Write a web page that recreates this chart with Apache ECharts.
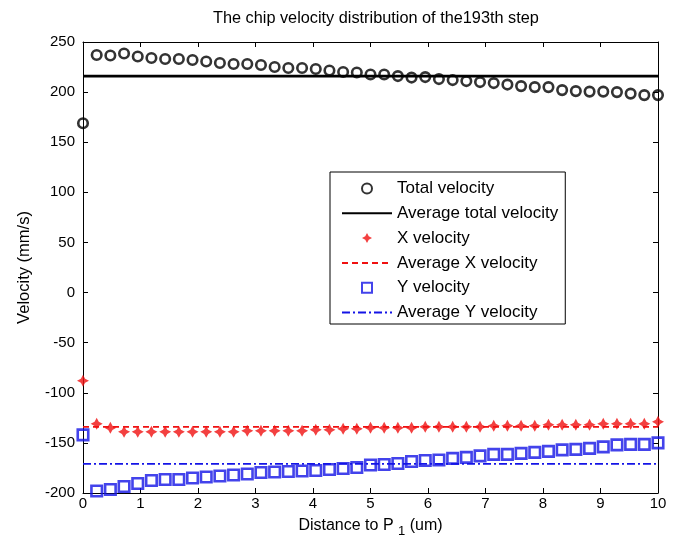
<!DOCTYPE html>
<html><head><meta charset="utf-8">
<script src="https://cdn.jsdelivr.net/npm/echarts@6/dist/echarts.min.js"></script>
<style>html,body{margin:0;padding:0;background:#fff}#c{width:675px;height:543px}</style>
</head><body><div id="c"></div><script>
const distance = [0, 0.238, 0.476, 0.714, 0.952, 1.190, 1.429, 1.667, 1.905, 2.143, 2.381, 2.619, 2.857, 3.095, 3.333, 3.571, 3.810, 4.048, 4.286, 4.524, 4.762, 5.000, 5.238, 5.476, 5.714, 5.952, 6.190, 6.429, 6.667, 6.905, 7.143, 7.381, 7.619, 7.857, 8.095, 8.333, 8.571, 8.810, 9.048, 9.286, 9.524, 9.762, 10];
const totalVelocity = [169, 237, 236.5, 238.5, 235.5, 234, 233, 233, 232, 230.5, 229, 228, 228, 227, 225, 224, 224, 223, 221.5, 220, 219.5, 217.5, 217.5, 216, 214.5, 215, 213, 212, 211, 210, 209, 207.5, 206, 205, 205, 202, 201, 200.5, 200.5, 200, 198.5, 197, 197];
const xVelocity = [-88, -131, -135, -139, -139, -139, -139, -139, -139, -139, -139, -139, -138, -138, -138, -138, -138, -137, -137, -136, -136, -135, -135, -135, -135, -134, -134, -134, -134, -134, -133, -133, -133, -133, -132, -132, -132, -132, -131, -131, -131, -131, -129];
const yVelocity = [-142, -198, -196.5, -193.5, -190.5, -187.5, -186.5, -186.5, -185, -184, -183, -182, -181, -179.5, -179, -178.5, -178, -177.5, -176.5, -175.5, -174.5, -172, -171.5, -170.5, -168.5, -167.5, -167, -165.5, -164.5, -163, -161.5, -161.5, -160.5, -159.5, -158.5, -157, -156.5, -155.5, -154, -152, -151.5, -151.5, -150];
const avgTotal = 216;
const avgX = -134;
const avgY = -171;
const xRange = [0, 10];
const yRange = [-200, 250];
const seriesNames = ['Total velocity', 'Average total velocity', 'X velocity', 'Average X velocity', 'Y velocity', 'Average Y velocity'];

const pair = (ys) => distance.map((x, i) => [x, ys[i]]);
const flat = (v) => xRange.map(x => [x, v]);
const FONT = 'Liberation Sans, Arial, sans-serif';
const star = 'path://M0,-10 L3.5,-3.5 L10,0 L3.5,3.5 L0,10 L-3.5,3.5 L-10,0 L-3.5,-3.5 Z';
const square = 'path://M0,0 L10,0 L10,10 L0,10 Z';
const RED = '#f01010';
const BLUE = '#1414e6';

const axisCommon = {
  type: 'value',
  axisLine: { show: true, onZero: false, lineStyle: { color: '#000', width: 1 } },
  axisTick: { show: true, inside: true, length: 5, lineStyle: { color: '#000' } },
  splitLine: { show: false }
};

const chart = echarts.init(document.getElementById('c'), null, { renderer: 'canvas' });
chart.setOption({
  animation: false,
  backgroundColor: '#fff',
  title: {
    text: 'The chip velocity distribution of the193th step',
    left: 213, top: 11, padding: 0,
    textStyle: { fontFamily: FONT, fontSize: 16.3, fontWeight: 'normal', color: '#000' }
  },
  grid: { left: 83, right: 17, top: 42, bottom: 50 },
  legend: {
    orient: 'vertical',
    left: 330, top: 172,
    data: seriesNames.map((n, i) => (i % 2 === 1 ? { name: n, itemStyle: { opacity: 0 } } : { name: n })),
    backgroundColor: '#fff',
    borderColor: '#000', borderWidth: 1,
    padding: [8, 7, 3, 11],
    itemWidth: 50, itemHeight: 10, itemGap: 7.8,
    textStyle: { fontFamily: FONT, fontSize: 17, color: '#000' }
  },
  xAxis: [
    Object.assign({}, axisCommon, {
      min: xRange[0], max: xRange[1], interval: 1, position: 'bottom',
      axisLabel: { color: '#000', fontFamily: FONT, fontSize: 15, margin: 3 },
      name: 'Distance to P {s|1} (um)', nameLocation: 'middle', nameGap: 21,
      nameTextStyle: { fontFamily: FONT, fontSize: 16, color: '#000',
        rich: { s: { fontFamily: FONT, fontSize: 13, color: '#000', padding: [11, 0, 0, 0] } } }
    }),
    Object.assign({}, axisCommon, {
      min: xRange[0], max: xRange[1], interval: 1, position: 'top',
      axisLabel: { show: false }
    })
  ],
  yAxis: [
    Object.assign({}, axisCommon, {
      min: yRange[0], max: yRange[1], interval: 50, position: 'left',
      axisLabel: { color: '#000', fontFamily: FONT, fontSize: 15, margin: 8 },
      name: 'Velocity (mm/s)', nameLocation: 'middle', nameGap: 50,
      nameTextStyle: { fontFamily: FONT, fontSize: 16.5, color: '#000' }
    }),
    Object.assign({}, axisCommon, {
      min: yRange[0], max: yRange[1], interval: 50, position: 'right',
      axisLabel: { show: false }
    })
  ],
  series: [
    { name: seriesNames[0], type: 'scatter', data: pair(totalVelocity), clip: false,
      symbol: 'circle', symbolSize: 9.5,
      itemStyle: { color: 'rgba(255,255,255,0)', borderColor: '#000', borderWidth: 2.6 } },
    { name: seriesNames[1], type: 'line', data: flat(avgTotal), symbol: 'none',
      lineStyle: { color: '#000', width: 2.6 }, itemStyle: { color: '#000' } },
    { name: seriesNames[2], type: 'scatter', data: pair(xVelocity), clip: false,
      symbol: star, symbolSize: 12,
      itemStyle: { color: RED } },
    { name: seriesNames[3], type: 'line', data: flat(avgX), symbol: 'none',
      lineStyle: { color: RED, width: 1.8, type: [6, 4] }, itemStyle: { color: RED } },
    { name: seriesNames[4], type: 'scatter', data: pair(yVelocity), clip: false,
      symbol: square, symbolSize: 10.5,
      itemStyle: { color: 'rgba(255,255,255,0)', borderColor: BLUE, borderWidth: 2.6 } },
    { name: seriesNames[5], type: 'line', data: flat(avgY), symbol: 'none',
      lineStyle: { color: BLUE, width: 1.8, type: [8, 3, 2, 3] }, itemStyle: { color: BLUE } }
  ]
});
</script></body></html>
